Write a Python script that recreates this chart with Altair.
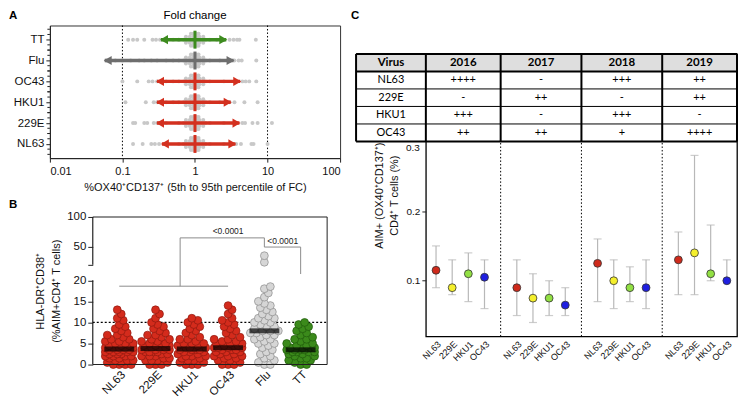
import altair as alt
import pandas as pd

FONT = "Liberation Sans"

# ---------------- Panel A data ----------------
a_title = "Fold change"
a_rows = ["TT", "Flu", "OC43", "HKU1", "229E", "NL63"]
a_colors = ["#3d8b1f", "#6e6e6e", "#d3301f", "#d3301f", "#d3301f", "#d3301f"]
a_p5 = [0.34, 0.057, 0.30, 0.30, 0.30, 0.35]
a_p95 = [2.7, 3.4, 4.2, 3.1, 4.1, 3.6]
a_median = [1.0, 1.0, 1.0, 1.0, 1.0, 1.0]
a_fc_TT = [0.12, 0.14, 0.16, 0.2, 0.26, 0.29, 0.33, 0.4, 0.5, 0.6, 2.0, 2.5, 3.0, 3.4, 3.8, 4.1, 6.9]
a_fc_Flu = [0.06, 0.08, 0.1, 0.13, 0.17, 0.2, 0.25, 0.3, 0.4, 0.5, 2.2, 3.0, 3.5, 4.0, 4.4, 7.0]
a_fc_OC43 = [0.1, 0.16, 0.23, 0.26, 0.3, 0.4, 0.5, 2.5, 3.5, 4.5, 5.0, 5.6, 7.0]
a_fc_HKU1 = [0.11, 0.21, 0.27, 0.3, 0.4, 0.5, 2.2, 3.0, 3.5, 4.8, 7.3]
a_fc_229E = [0.14, 0.15, 0.2, 0.22, 0.27, 0.3, 0.4, 2.5, 3.5, 4.5, 4.9, 6.2, 7.3, 11.5]
a_fc_NL63 = [0.14, 0.19, 0.25, 0.28, 0.32, 0.4, 2.5, 3.7, 4.3, 6.0, 6.4, 10.0]
a_core_fc = [0.6, 0.7, 0.8, 0.9, 1.1, 1.25, 1.4, 1.6, 0.75, 0.85, 0.95, 1.05, 1.15, 1.3,
             0.75, 0.85, 0.95, 1.05, 1.15, 1.3, 0.88, 0.95, 1.05, 1.12, 0.88, 0.95, 1.05, 1.12]
a_core_dy = [0, 0, 0, 0, 0, 0, 0, 0, -3, -3, -3, -3, -3, -3,
             3, 3, 3, 3, 3, 3, -6, -6, -6, -6, 6, 6, 6, 6]
a_refs = [0.1, 10]

# ---------------- Panel B data ----------------
b_cats = ["NL63", "229E", "HKU1", "OC43", "Flu", "TT"]
b_fill = ["#d42b1c", "#d42b1c", "#d42b1c", "#d42b1c", "#d6d6d6", "#3b8a1b"]
b_edge = ["#8e1a10", "#8e1a10", "#8e1a10", "#8e1a10", "#8a8a8a", "#1f5a0c"]
b_NL63 = [0, 0, 0, 0, 0.5, 0.5, 1, 1, 1, 1.5, 1.5, 2, 2, 2, 2, 2.5, 2.5, 2.5, 3, 3, 3, 3, 3, 3.5, 3.5,
          3.5, 3.5, 4, 4, 4, 4, 4, 4.5, 4.5, 4.5, 5, 5, 5, 5.5, 5.5, 6, 6, 6.5, 7, 7, 7.5, 8, 8.5, 9,
          9.5, 10.5, 11, 12, 13]
b_229E = [0, 0, 0, 0.5, 1, 1, 1, 1.5, 1.5, 2, 2, 2, 2.5, 2.5, 3, 3, 3, 3, 3.5, 3.5, 3.5, 3.5, 4, 4, 4,
          4, 4.5, 4.5, 4.5, 5, 5, 5, 5.5, 5.5, 6, 6, 6.5, 7, 7, 7.5, 8, 8.5, 9, 9.5, 10, 11, 12, 13]
b_HKU1 = [0, 0, 0, 0.5, 0.5, 1, 1, 1.5, 1.5, 2, 2, 2, 2.5, 2.5, 3, 3, 3, 3.5, 3.5, 3.5, 3.5, 4, 4, 4,
          4, 4.5, 4.5, 5, 5, 5, 5.5, 6, 6, 6.5, 7, 7.5, 8, 8.5, 9, 9.5, 10, 10.5, 11]
b_OC43 = [0, 0, 0, 0.5, 1, 1, 1.5, 1.5, 2, 2, 2, 2.5, 2.5, 3, 3, 3, 3.5, 3.5, 3.5, 4, 4, 4, 4, 4.5,
          4.5, 4.5, 5, 5, 5, 5.5, 5.5, 6, 6, 6.5, 7, 7.5, 8, 8.5, 9, 9.5, 10, 10.5, 11, 12, 13, 14]
b_Flu = [0, 0, 0.5, 1, 1.5, 2, 2.5, 3, 3.5, 4, 4.5, 5, 5, 5.5, 6, 6, 6.5, 7, 7, 7.5, 7.5, 8, 8, 8,
         8.5, 9, 9, 9.5, 10, 10, 10.5, 11, 11, 11.5, 12, 12.5, 13, 13.5, 14, 14.5, 15, 16, 17, 18,
         18.5, 24, 35]
b_TT = [0, 0, 0.5, 1, 1, 1.5, 1.5, 2, 2, 2.5, 2.5, 3, 3, 3, 3, 3.5, 3.5, 3.5, 3.5, 4, 4, 4, 4, 4.5,
        4.5, 5, 5, 5.5, 6, 6, 6.5, 7, 7.5, 8, 8.5, 9, 9.5, 10]
b_medians = [3.7, 3.8, 3.7, 4.0, 8.0, 3.5]
b_pvalue = "<0.0001"

# ---------------- Panel C data ----------------
c_years = ["2016", "2017", "2018", "2019"]
c_viruses = ["NL63", "229E", "HKU1", "OC43"]
c_colors = ["#cf2a1b", "#f4ef2c", "#92e043", "#1f1fe0"]
c_mean = [[0.115, 0.090, 0.110, 0.105], [0.090, 0.075, 0.075, 0.065],
          [0.125, 0.100, 0.090, 0.090], [0.130, 0.140, 0.110, 0.100]]
c_low = [[0.090, 0.080, 0.070, 0.060], [0.050, 0.040, 0.050, 0.050],
         [0.070, 0.060, 0.070, 0.060], [0.080, 0.080, 0.100, 0.100]]
c_high = [[0.150, 0.130, 0.140, 0.130], [0.130, 0.110, 0.100, 0.090],
          [0.160, 0.130, 0.120, 0.130], [0.170, 0.280, 0.180, 0.130]]
c_yticks = [0.1, 0.2, 0.3]
t_header = ["Virus", "2016", "2017", "2018", "2019"]
t_virus = ["NL63", "229E", "HKU1", "OC43"]
t_vals = [["++++", "-", "+++", "++"], ["-", "++", "-", "++"],
          ["+++", "-", "+++", "-"], ["++", "++", "+", "++++"]]

AXC = "#222"


def label(t, dx, dy, bold=True, size=11.5, align="left", baseline="top"):
    return alt.Chart(pd.DataFrame({"t": [t]})).mark_text(
        fontSize=size, fontWeight="bold" if bold else "normal", align=align, baseline=baseline,
        font=FONT, color="black").encode(x=alt.value(dx), y=alt.value(dy), text="t:N")


# =============== Panel A chart ===============
A_W, A_H = 291, 133
xA_scale = alt.Scale(type="log", domain=[0.01, 100], nice=False)
xA_axis = alt.Axis(values=[0.01, 0.1, 1, 10, 100], format="~g",
                   title="%OX40⁺CD137⁺ (5th to 95th percentile of FC)",
                   labelFontSize=11, titleFontSize=11, tickSize=4, labelPadding=3, titlePadding=5)
yA = alt.Y("row:N", scale=alt.Scale(type="point", domain=a_rows, padding=0.68),
           axis=alt.Axis(title=None, labelFontSize=11.5, tickSize=4, labelPadding=2))
colA = alt.Color("row:N", scale=alt.Scale(domain=a_rows, range=a_colors), legend=None)


def xa(field):
    return alt.X(field, scale=xA_scale, axis=xA_axis)


a_lists = [a_fc_TT, a_fc_Flu, a_fc_OC43, a_fc_HKU1, a_fc_229E, a_fc_NL63]
pts = []
for r, lst in zip(a_rows, a_lists):
    for v in lst:
        pts.append({"row": r, "fc": v, "dy": 0.0})
    for v, d in zip(a_core_fc, a_core_dy):
        pts.append({"row": r, "fc": v, "dy": float(d)})
df_a_pts = pd.DataFrame(pts)
df_a_arr = pd.DataFrame({"row": a_rows, "lo": a_p5, "hi": a_p95, "med": a_median})
df_a_ref = pd.DataFrame({"v": a_refs})
minor = []
for r in a_rows:
    for d in (-10.45, -5.2, 5.2, 10.45):
        minor.append({"row": r, "dy": d})
df_a_minor = pd.DataFrame(minor)

a_ref = alt.Chart(df_a_ref).mark_rule(color="black", strokeDash=[1.5, 2], strokeWidth=1).encode(x=xa("v:Q"))
a_pts = alt.Chart(df_a_pts).mark_circle(size=16, color="#c8c8c8", opacity=1).encode(
    x=xa("fc:Q"), y=yA, yOffset=alt.YOffset("dy:Q", scale=None))
a_line = alt.Chart(df_a_arr).mark_rule(strokeWidth=3.5).encode(x=xa("lo:Q"), x2="hi:Q", y=yA, color=colA)
a_left = alt.Chart(df_a_arr).mark_point(shape="triangle-left", filled=True, size=85, opacity=1,
                                        xOffset=3).encode(x=xa("lo:Q"), y=yA, color=colA)
a_right = alt.Chart(df_a_arr).mark_point(shape="triangle-right", filled=True, size=85, opacity=1,
                                         xOffset=-3).encode(x=xa("hi:Q"), y=yA, color=colA)
a_med = alt.Chart(df_a_arr).mark_tick(orient="vertical", size=18, thickness=3, opacity=1).encode(
    x=xa("med:Q"), y=yA, color=colA)
a_minor = alt.Chart(df_a_minor).mark_rule(color=AXC, strokeWidth=1).encode(
    x=alt.value(-2.5), x2=alt.value(0), y=yA, yOffset=alt.YOffset("dy:Q", scale=None))

A = alt.layer(a_ref, a_pts, a_line, a_left, a_right, a_med, a_minor,
              label("A", -41, -16),
              label(a_title, A_W / 2, -7, bold=False, align="center", baseline="alphabetic")).properties(
    width=A_W, height=A_H)

# =============== Panel B chart ===============
B_X0 = 43            # plot of B starts this far right of the plot of A
B_PW, B_H = 235, 148
B_W = B_X0 + B_PW
Y20_LO, Y20_HI = 63.5, 47.8


def b_ypx(v):
    if v <= 20:
        return v * (B_H - Y20_LO) / 20.0
    return (B_H - Y20_HI) + (v - 20) * Y20_HI / 80.0


def swarm(vals, diam=5.0, lim=14.0, step=2.0):
    cands = [0.0]
    k = 1
    while k * step <= lim:
        cands += [k * step, -k * step]
        k += 1
    placed, offs = [], []
    for v in vals:
        y = b_ypx(v)
        best, bestd = 0.0, -1.0
        for c in cands:
            d = min([((c - px) ** 2 + (y - py) ** 2) ** 0.5 for px, py in placed], default=1e9)
            if d >= diam:
                best = c
                break
            if d > bestd:
                best, bestd = c, d
        placed.append((best, y))
        offs.append(best)
    return offs


b_lists = [b_NL63, b_229E, b_HKU1, b_OC43, b_Flu, b_TT]
brow = []
for cat, lst in zip(b_cats, b_lists):
    for v, o in zip(lst, swarm(lst)):
        brow.append({"cat": cat, "val": v, "off": o})
df_b = pd.DataFrame(brow)
df_b_med = pd.DataFrame({"cat": b_cats, "med": b_medians})

yB_scale = alt.Scale(domain=[0, 20, 20.001, 100], range=[B_H, Y20_LO, Y20_HI, 0], nice=False, zero=False)
yB_axis = alt.Axis(values=[0, 5, 10, 15, 20, 20.001, 50, 100],
                   labelExpr="datum.value > 20 && datum.value < 21 ? '' : datum.label",
                   domain=False, tickSize=5, labelFontSize=11.5, labelPadding=2, offset=-B_X0,
                   title=["HLA-DR⁺CD38⁺", "(%AIM+CD4⁺ T cells)"], titleFontSize=11,
                   titleLineHeight=16, titlePadding=5)
xB_scale = alt.Scale(type="point", domain=b_cats, padding=0.73, range=[B_X0, B_W])
xB_axis = alt.Axis(title=None, labelAngle=-45, labelFontSize=11.5, tickSize=0, labelPadding=4,
                   labelOverlap=False, domain=False)


def xb(field):
    return alt.X(field, scale=xB_scale, axis=xB_axis)


def yb(field):
    return alt.Y(field, scale=yB_scale, axis=yB_axis)


b_dot = alt.Chart(pd.DataFrame({"v": [10]})).mark_rule(
    color="black", strokeDash=[2, 2], strokeWidth=1.4).encode(
    y=yb("v:Q"), x=alt.value(B_X0), x2=alt.value(B_W))
b_pts = alt.Chart(df_b).mark_circle(size=62, opacity=1, strokeWidth=0.7).encode(
    x=xb("cat:N"), y=yb("val:Q"), xOffset=alt.XOffset("off:Q", scale=None),
    color=alt.Color("cat:N", scale=alt.Scale(domain=b_cats, range=b_fill), legend=None),
    stroke=alt.Stroke("cat:N", scale=alt.Scale(domain=b_cats, range=b_edge), legend=None))
b_med = alt.Chart(df_b_med).mark_tick(orient="horizontal", size=30, thickness=5, color="black").encode(
    x=xb("cat:N"), y=yb("med:Q"))

BR = "#8c8c8c"
b_h1 = alt.Chart(pd.DataFrame({"a": ["NL63", "Flu"], "b": ["OC43", "TT"], "y": [18.6, 49.5]})).mark_rule(
    color=BR, strokeWidth=1).encode(x=xb("a:N"), x2="b:N", y=yb("y:Q"))
b_h2 = alt.Chart(pd.DataFrame({"a": ["HKU1"], "b": ["Flu"], "y": [64.9]})).mark_rule(
    color=BR, strokeWidth=1, xOffset=-11.7).encode(x=xb("a:N"), x2="b:N", y=yb("y:Q"))
b_v1 = alt.Chart(pd.DataFrame({"a": ["Flu", "TT"], "y1": [64.9, 49.5], "y2": [49.5, 20.0004]})).mark_rule(
    color=BR, strokeWidth=1).encode(x=xb("a:N"), y=yb("y1:Q"), y2="y2:Q")
b_v2 = alt.Chart(pd.DataFrame({"a": ["HKU1"], "y1": [18.6], "y2": [64.9]})).mark_rule(
    color=BR, strokeWidth=1, xOffset=-11.7).encode(x=xb("a:N"), y=yb("y1:Q"), y2="y2:Q")
b_t1 = alt.Chart(pd.DataFrame({"a": ["OC43"], "y": [75.7], "t": [b_pvalue]})).mark_text(
    fontSize=8.5, font=FONT, align="center", baseline="middle", color="#222").encode(
    x=xb("a:N"), y=yb("y:Q"), text="t:N")
b_t2 = alt.Chart(pd.DataFrame({"a": ["Flu"], "y": [59.8], "t": [b_pvalue]})).mark_text(
    fontSize=8.5, font=FONT, align="left", baseline="middle", dx=3, color="#222").encode(
    x=xb("a:N"), y=yb("y:Q"), text="t:N")
b_axl = alt.Chart(pd.DataFrame({"y1": [0, 20.001], "y2": [20, 100]})).mark_rule(
    color=AXC, strokeWidth=1.2).encode(x=alt.value(B_X0), y=yb("y1:Q"), y2="y2:Q")
b_hor = alt.Chart(pd.DataFrame({"y": [0, 100]})).mark_rule(color=AXC, strokeWidth=1.1).encode(
    y=yb("y:Q"), x=alt.value(B_X0), x2=alt.value(B_W))
b_rgt = alt.Chart(pd.DataFrame({"y1": [0], "y2": [100]})).mark_rule(color=AXC, strokeWidth=1).encode(
    x=alt.value(B_W), y=yb("y1:Q"), y2="y2:Q")

B = alt.layer(b_dot, b_pts, b_med, b_h1, b_h2, b_v1, b_v2, b_t1, b_t2, b_axl, b_hor, b_rgt,
              label("B", -41, -17.5)).properties(
    width=B_W, height=B_H, view=alt.ViewBackground(strokeOpacity=0))

# =============== Panel C chart (table + plot share one y scale; view frame = outline) ===============
C_W = 312
C_PTOP = 87.8        # plot top (table bottom), from the top of the table
C_BOT = 283.3        # plot bottom
C_YMIN, C_YMAX = 0.02, 0.3
C_YTOP = C_YMAX + C_PTOP * (C_YMAX - C_YMIN) / (C_BOT - C_PTOP)   # value at the table top
C_SLOT = 5           # 4 viruses + one empty slot between years
C_PAD = 0.63
C_VCOL = 4.32        # width of the "Virus" column in slot units
C_XMAX = (len(c_years) - 1) * C_SLOT + 3 + C_PAD
xC_scale = alt.Scale(domain=[-C_PAD, C_XMAX], nice=False, zero=False)
lab_pos = [yi * C_SLOT + vi for yi in range(len(c_years)) for vi in range(len(c_viruses))]
lab_expr = "[" + ",".join("'%s'" % v for v in c_viruses) + ",''][datum.value % 5]"
xC_axis = alt.Axis(values=lab_pos, labelExpr=lab_expr, labelAngle=-45, title=None, tickSize=0,
                   labelFontSize=9, labelPadding=3, grid=False, labelOverlap=False, domain=False)
yC_scale = alt.Scale(domain=[C_YMIN, C_YTOP], range=[C_BOT, 0], nice=False, zero=False)
yC_axis = alt.Axis(values=c_yticks[:-1], format=".1f", tickSize=4, labelFontSize=10, labelPadding=2,
                   domain=False, title=["AIM+ (OX40⁺CD137⁺)", "CD4⁺ T cells (%)"], titleFontSize=11,
                   titleLineHeight=15, titlePadding=7)


def xc(field):
    return alt.X(field, scale=xC_scale, axis=xC_axis)


def ycf(field):
    return alt.Y(field, scale=yC_scale, axis=yC_axis)


crow, caps = [], []
for yi, yr in enumerate(c_years):
    for vi, vir in enumerate(c_viruses):
        p = yi * C_SLOT + vi
        crow.append({"pos": p, "virus": vir, "mean": c_mean[yi][vi],
                     "lo": c_low[yi][vi], "hi": c_high[yi][vi]})
        caps.append({"pos": p, "cap": c_low[yi][vi]})
        caps.append({"pos": p, "cap": c_high[yi][vi]})
df_c = pd.DataFrame(crow)
df_caps = pd.DataFrame(caps)
df_sep = pd.DataFrame({"x": [yi * C_SLOT - 1 for yi in range(1, len(c_years))],
                       "y1": [C_YMIN] * 3, "y2": [C_YMAX] * 3})

c_sep = alt.Chart(df_sep).mark_rule(color="black", strokeDash=[1.5, 2], strokeWidth=1).encode(
    x=xc("x:Q"), y=ycf("y1:Q"), y2="y2:Q")
c_err = alt.Chart(df_c).mark_rule(color="#b8b8b8", strokeWidth=1.2).encode(
    x=xc("pos:Q"), y=ycf("lo:Q"), y2="hi:Q")
c_cap = alt.Chart(df_caps).mark_tick(orient="horizontal", size=8, thickness=1.2, color="#b8b8b8").encode(
    x=xc("pos:Q"), y=ycf("cap:Q"))
c_pts = alt.Chart(df_c).mark_circle(size=62, opacity=1, stroke="#333", strokeWidth=0.8).encode(
    x=xc("pos:Q"), y=ycf("mean:Q"),
    color=alt.Color("virus:N", scale=alt.Scale(domain=c_viruses, range=c_colors), legend=None))
c_top_lab = alt.Chart(pd.DataFrame({"x": [-C_PAD], "y": [c_yticks[-1]], "t": ["%.1f" % c_yticks[-1]]})).mark_text(
    font=FONT, fontSize=10, align="right", baseline="top", dx=-6, dy=2, color="#111").encode(
    x=xc("x:Q"), y=ycf("y:Q"), text="t:N")

# table rows in y units
nrow = len(t_virus) + 1
row_h = (C_YTOP - C_YMAX) / nrow
row_edges = [C_YTOP - r * row_h for r in range(nrow + 1)]
col_edges = [-C_PAD - C_VCOL, -C_PAD] + [yi * C_SLOT - 1 for yi in range(1, len(c_years))] + [C_XMAX]
cells = []
for r in range(nrow):
    for c in range(len(t_header)):
        if r == 0:
            txt = t_header[c]
        elif c == 0:
            txt = t_virus[r - 1]
        else:
            txt = t_vals[r - 1][c - 1]
        cells.append({"x0": col_edges[c], "x1": col_edges[c + 1], "xm": (col_edges[c] + col_edges[c + 1]) / 2,
                      "r0": row_edges[r], "r1": row_edges[r + 1], "rm": (row_edges[r] + row_edges[r + 1]) / 2,
                      "txt": txt, "hdr": r == 0})
df_cells = pd.DataFrame(cells)
df_hdr = df_cells[df_cells.hdr]
df_body = df_cells[~df_cells.hdr]
df_vlines = pd.DataFrame({"x": col_edges, "r0": [row_edges[0]] * len(col_edges),
                          "r1": [row_edges[-1]] * len(col_edges)})
df_hthick = pd.DataFrame({"r": [row_edges[0], row_edges[1], row_edges[-1]],
                          "xa": [col_edges[0]] * 3, "xb": [col_edges[-1]] * 3})
df_hthin = pd.DataFrame({"r": row_edges[2:-1], "xa": [col_edges[0]] * (nrow - 2),
                         "xb": [col_edges[-1]] * (nrow - 2)})

t_rect_h = alt.Chart(df_hdr).mark_rect(color="#dedede").encode(
    x=xc("x0:Q"), x2="x1:Q", y=ycf("r0:Q"), y2="r1:Q")
t_rect_b = alt.Chart(df_body).mark_rect(color="#ffffff").encode(
    x=xc("x0:Q"), x2="x1:Q", y=ycf("r0:Q"), y2="r1:Q")
t_txt_h = alt.Chart(df_hdr).mark_text(
    font="Lato", fontSize=11.5, fontWeight="bold", color="black", baseline="middle").encode(
    x=xc("xm:Q"), y=ycf("rm:Q"), text="txt:N")
t_txt_b = alt.Chart(df_body).mark_text(
    font="Lato", fontSize=11, color="black", baseline="middle").encode(
    x=xc("xm:Q"), y=ycf("rm:Q"), text="txt:N")
t_vl = alt.Chart(df_vlines).mark_rule(color="black", strokeWidth=2).encode(
    x=xc("x:Q"), y=ycf("r0:Q"), y2="r1:Q")
t_hk = alt.Chart(df_hthick).mark_rule(color="black", strokeWidth=2).encode(
    x=xc("xa:Q"), x2="xb:Q", y=ycf("r:Q"))
t_hn = alt.Chart(df_hthin).mark_rule(color="black", strokeWidth=1).encode(
    x=xc("xa:Q"), x2="xb:Q", y=ycf("r:Q"))

C = alt.layer(t_rect_h, t_rect_b, t_txt_h, t_txt_b, t_hn, t_hk, t_vl,
              c_sep, c_err, c_cap, c_pts, c_top_lab).properties(
    width=C_W, height=C_BOT, view=alt.ViewBackground(stroke="black", strokeWidth=1.3))

# small strip above panel C that carries the panel letter
S_H = 10
c_strip_end = alt.Chart(pd.DataFrame({"k": [0]})).mark_rule(color="white", strokeWidth=1).encode(
    x=alt.value(0), x2=alt.value(2), y=alt.value(S_H))
S = alt.layer(label("C", -75, -16), c_strip_end).properties(
    width=C_W, height=S_H, view=alt.ViewBackground(strokeOpacity=0))

right = alt.vconcat(S, C, spacing=15.5).resolve_scale(color="independent", stroke="independent")
left = alt.vconcat(A, B, spacing=6).resolve_scale(color="independent", stroke="independent")
chart = alt.hconcat(left, right, spacing=10).resolve_scale(
    color="independent", stroke="independent").properties(padding=0).configure_view(
    stroke="#333", strokeWidth=1).configure_axis(
    labelFont=FONT, titleFont=FONT, labelColor="#111", titleColor="#111", domainColor=AXC,
    tickColor=AXC, grid=False, titleFontWeight="normal")

chart.save("out.html", embed_options={"renderer": "svg", "actions": False})
